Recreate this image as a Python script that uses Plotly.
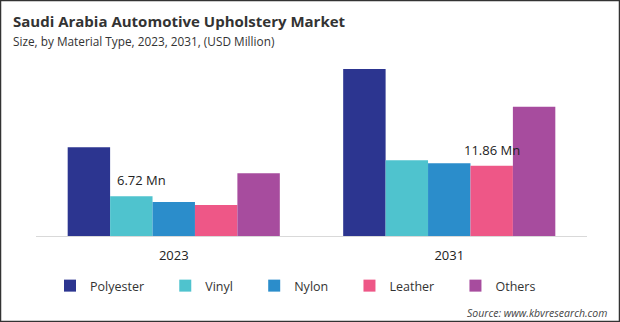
import plotly.graph_objects as go

years = ["2023", "2031"]
materials = ["Polyester", "Vinyl", "Nylon", "Leather", "Others"]
polyester = [15.0, 28.2]
vinyl = [6.72, 12.8]
nylon = [5.74, 12.3]
leather = [5.23, 11.86]
others = [10.6, 21.8]
series_values = [polyester, vinyl, nylon, leather, others]
colors = ["#2c3590", "#4fc3ce", "#2b8dcb", "#ee5787", "#a74c9e"]

W, H = 620, 322
ML, MR, MT, MB = 36, 33, 50, 86
PW, PH = W - ML - MR, H - MT - MB

def px_x(x):
    return (x - ML) / PW

def px_y(y):
    return (H - MB - y) / PH

fig = go.Figure()
for name, vals, col in zip(materials, series_values, colors):
    fig.add_trace(go.Bar(
        x=years, y=vals, name=name + "\u00a0" * 5,
        marker=dict(color=col, line=dict(width=0)),
        hoverinfo="skip",
    ))

font = "Open Sans"
annotations = [
    dict(text="<b>Saudi Arabia Automotive Upholstery Market</b>", x=px_x(11), y=px_y(21),
         xref="paper", yref="paper", xanchor="left", yanchor="middle", showarrow=False,
         font=dict(family=font, size=15, color="#333333")),
    dict(text="Size, by Material Type, 2023, 2031, (USD Million)", x=px_x(11), y=px_y(41),
         xref="paper", yref="paper", xanchor="left", yanchor="middle", showarrow=False,
         font=dict(family=font, size=11.8, color="#333333")),
    dict(text="<i>Source: www.kbvresearch.com</i>", x=px_x(609), y=px_y(313),
         xref="paper", yref="paper", xanchor="right", yanchor="middle", showarrow=False,
         font=dict(family=font, size=10.5, color="#444444")),
    dict(text=f"{vinyl[0]:.2f} Mn", x=0, y=vinyl[0], xshift=-32, yshift=5,
         xref="x", yref="y", xanchor="center", yanchor="bottom", showarrow=False,
         font=dict(family=font, size=13, color="#222222")),
    dict(text=f"{leather[1]:.2f} Mn", x=1, y=leather[1], xshift=43, yshift=5,
         xref="x", yref="y", xanchor="center", yanchor="bottom", showarrow=False,
         font=dict(family=font, size=13, color="#222222")),
]

fig.update_layout(
    width=W, height=H,
    margin=dict(l=ML, r=MR, t=MT, b=MB, pad=0),
    paper_bgcolor="white", plot_bgcolor="white",
    barmode="group", bargap=0.23, bargroupgap=0,
    showlegend=True,
    legend=dict(orientation="h", x=px_x(50), y=px_y(286), xanchor="left", yanchor="middle",
                font=dict(family=font, size=12.5, color="#333333"),
                bgcolor="rgba(0,0,0,0)", traceorder="normal"),
    xaxis=dict(type="category", range=[-0.5, 1.5], autorange=False,
               showgrid=False, showline=True, linecolor="#d9d9d9", linewidth=1,
               ticks="", ticklabelstandoff=7,
               tickfont=dict(family=font, size=13, color="#222222"),
               zeroline=False),
    yaxis=dict(range=[0, 31.4], autorange=False, visible=False, showgrid=False, zeroline=False),
    annotations=annotations,
    shapes=[dict(type="rect", xref="paper", yref="paper",
                 x0=px_x(0.5), x1=px_x(619.5), y0=px_y(321.5), y1=px_y(0.5),
                 line=dict(color="#333333", width=1.5), fillcolor="rgba(0,0,0,0)", layer="above")],
)

fig.write_html("out.html")
